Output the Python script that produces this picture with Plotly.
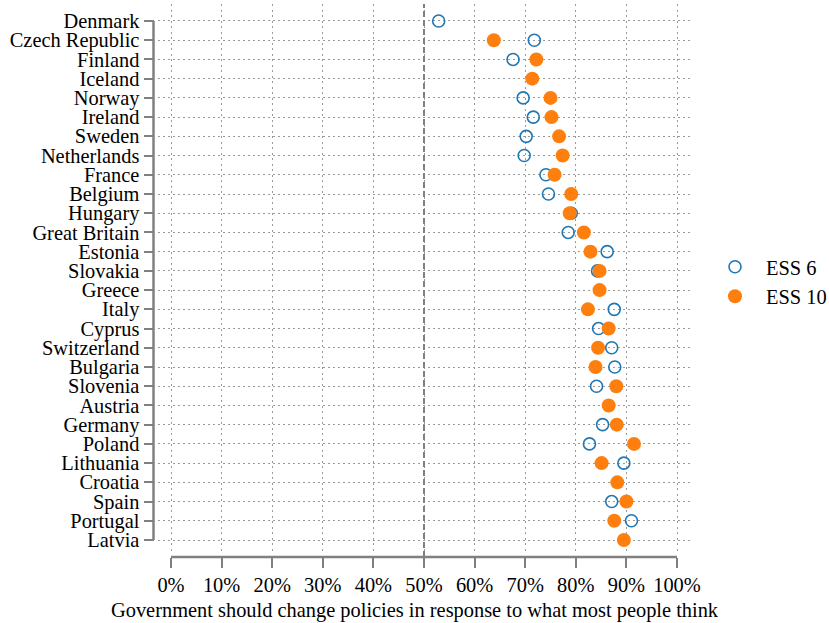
import plotly.graph_objects as go

countries = ["Denmark", "Czech Republic", "Finland", "Iceland", "Norway", "Ireland",
             "Sweden", "Netherlands", "France", "Belgium", "Hungary", "Great Britain",
             "Estonia", "Slovakia", "Greece", "Italy", "Cyprus", "Switzerland",
             "Bulgaria", "Slovenia", "Austria", "Germany", "Poland", "Lithuania",
             "Croatia", "Spain", "Portugal", "Latvia"]

ess6 = [52.9, 71.8, 67.6, None, 69.6, 71.6,
        70.2, 69.8, 74.1, 74.6, 79.1, 78.5,
        86.2, 84.3, None, 87.6, 84.5, 87.1,
        87.7, 84.1, None, 85.3, 82.7, 89.5,
        None, 87.1, 91.0, None]

ess10 = [None, 63.8, 72.2, 71.4, 75.0, 75.2,
         76.7, 77.4, 75.8, 79.1, 78.8, 81.6,
         82.9, 84.7, 84.7, 82.4, 86.5, 84.4,
         83.9, 88.0, 86.5, 88.1, 91.5, 85.1,
         88.2, 90.0, 87.6, 89.5]

xticks = list(range(0, 101, 10))
xticklabels = [f"{v}%" for v in xticks]
x_title = "Government should change policies in response to what most people think"

ypos = list(range(len(countries)))

FONT = "Liberation Serif, Times New Roman, serif"
FS = 20.4
GRAY = "#808080"
GRID = "#9a9a9a"

fig = go.Figure()
fig.add_trace(go.Scatter(
    x=ess6, y=ypos, mode="markers", name="ESS 6",
    marker=dict(symbol="circle-open", size=12, color="#1f77b4",
                line=dict(width=1.6, color="#1f77b4")),
))
fig.add_trace(go.Scatter(
    x=ess10, y=ypos, mode="markers", name="ESS 10",
    marker=dict(symbol="circle", size=14, color="#ff7f0e", line=dict(width=0)),
))

W, H = 829, 623
ml, mr, mt, mb = 140, 139, 4, 66
pw = W - ml - mr
ph = H - mt - mb

fig.update_layout(
    width=W, height=H,
    margin=dict(l=ml, r=mr, t=mt, b=mb, pad=0, autoexpand=False),
    paper_bgcolor="white", plot_bgcolor="white",
    font=dict(family=FONT, size=FS, color="black"),
    showlegend=True,
    legend=dict(x=(704 - ml) / pw, xanchor="left",
                y=1 - (247 - mt) / ph, yanchor="top",
                font=dict(size=FS, family=FONT), itemwidth=52,
                bgcolor="rgba(0,0,0,0)"),
    xaxis=dict(
        domain=[(158 - ml) / pw, 1],
        range=[-2.57, 102.57],
        anchor="free", position=0,
        tickvals=xticks, ticktext=xticklabels,
        ticks="outside", ticklen=10, tickwidth=2, tickcolor=GRAY,
        showline=False, zeroline=False, automargin=False,
        showgrid=True, gridcolor=GRID, gridwidth=1, griddash="2px,3.5px",
        tickfont=dict(size=FS, family=FONT, color="black"),
    ),
    yaxis=dict(
        domain=[(557 - 551) / ph, 1],
        range=[27.572, -0.884],
        anchor="free", position=(153.5 - ml) / pw,
        tickvals=ypos, ticktext=countries,
        ticks="outside", ticklen=10, tickwidth=2, tickcolor=GRAY,
        showline=False, zeroline=False, automargin=False,
        showgrid=True, gridcolor=GRID, gridwidth=1, griddash="1.5px,3.5px",
        tickfont=dict(size=FS, family=FONT, color="black"),
    ),
    shapes=[
        dict(type="line", xref="paper", yref="y",
             x0=(153.5 - ml) / pw, x1=(153.5 - ml) / pw, y0=0, y1=len(countries) - 1,
             line=dict(color=GRAY, width=2.5)),
        dict(type="line", xref="x", yref="paper",
             x0=0, x1=100, y0=0, y1=0,
             line=dict(color=GRAY, width=2.5)),
        dict(type="line", xref="x", yref="paper",
             x0=50, x1=50, y0=0, y1=1,
             line=dict(color=GRAY, width=2, dash="6px,3px")),
    ],
    annotations=[
        dict(text=x_title, xref="paper", yref="paper",
             x=0.5, y=1 - (610 - mt) / ph, xanchor="center", yanchor="middle",
             showarrow=False, font=dict(size=FS, family=FONT, color="black")),
    ],
)

fig.write_html("out.html",
               config={"displayModeBar": False},
               post_script="document.body.style.margin='0';document.body.style.padding='0';")
